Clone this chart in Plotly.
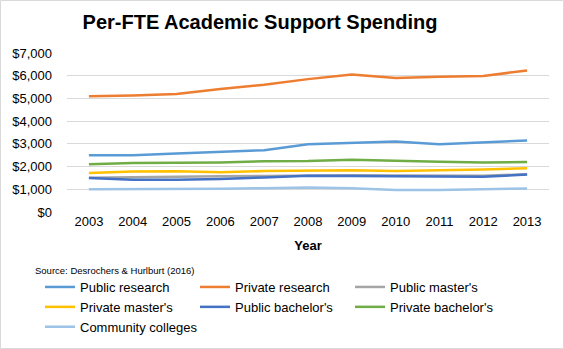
import plotly.graph_objects as go

years = ["2003", "2004", "2005", "2006", "2007", "2008", "2009", "2010", "2011", "2012", "2013"]

public_research = [2500, 2500, 2570, 2650, 2720, 2980, 3040, 3100, 2980, 3060, 3150]
private_research = [5100, 5130, 5200, 5420, 5600, 5850, 6050, 5900, 5950, 5990, 6230]
public_masters = [1510, 1540, 1550, 1570, 1590, 1620, 1620, 1610, 1620, 1600, 1660]
private_masters = [1720, 1780, 1790, 1750, 1800, 1820, 1840, 1810, 1830, 1870, 1930]
public_bachelors = [1500, 1420, 1420, 1450, 1520, 1600, 1580, 1580, 1580, 1550, 1650]
private_bachelors = [2100, 2160, 2170, 2180, 2230, 2240, 2300, 2240, 2210, 2180, 2200]
community_colleges = [1000, 1000, 1000, 1020, 1050, 1080, 1050, 970, 970, 990, 1040]

series = [
    ("Public research", public_research, "#5B9BD5"),
    ("Private research", private_research, "#ED7D31"),
    ("Public master's", public_masters, "#A5A5A5"),
    ("Private master's", private_masters, "#FFC000"),
    ("Public bachelor's", public_bachelors, "#4472C4"),
    ("Private bachelor's", private_bachelors, "#70AD47"),
    ("Community colleges", community_colleges, "#9DC3E6"),
]

W, H = 564, 349
L, R, T, B = 67, 15, 53, 137
pw = W - L - R
ph = H - T - B

def px_x(x):
    return (x - L) / pw

def px_y(y):
    return (H - B - y) / ph

fig = go.Figure()
for name, vals, col in series:
    fig.add_trace(go.Scatter(x=years, y=vals, name=name, mode="lines",
                             line=dict(color=col, width=2.5)))

font = "Liberation Sans, Arial, sans-serif"
fig.update_layout(
    width=W, height=H,
    margin=dict(l=L, r=R, t=T, b=B, autoexpand=False),
    paper_bgcolor="white", plot_bgcolor="white",
    font=dict(family=font, size=13, color="#404040"),
    title=dict(text="<b>Per-FTE Academic Support Spending</b>", x=260 / W, xanchor="center",
               y=1 - 22 / H, yanchor="middle", yref="container",
               font=dict(size=20, color="black", family=font)),
    xaxis=dict(type="category", range=[-0.5, 10.5], showgrid=False, zeroline=False,
               showline=False, ticks="", tickfont=dict(size=13, color="black"),
               title=dict(text="<b>Year</b>", font=dict(size=13, color="black"), standoff=12)),
    yaxis=dict(range=[0, 7000], dtick=1000, tickformat="$,.0f", showgrid=True,
               gridcolor="#D9D9D9", gridwidth=1, zeroline=False, showline=False,
               tickfont=dict(size=13, color="black"), ticks="", ticklabelstandoff=14),
    legend=dict(orientation="h", x=px_x(40), xanchor="left", y=px_y(272), yanchor="top",
                entrywidth=110, entrywidthmode="pixels", traceorder="normal",
                font=dict(size=13, color="black"), itemwidth=30,
                bgcolor="rgba(0,0,0,0)", tracegroupgap=0),
    showlegend=True,
)

fig.add_annotation(text="Source: Desrochers &amp; Hurlburt (2016)", xref="paper", yref="paper",
                   x=px_x(33), y=px_y(270), xanchor="left", yanchor="middle",
                   showarrow=False, font=dict(size=9.5, color="black", family=font))

fig.add_shape(type="rect", xref="paper", yref="paper",
              x0=px_x(0.5), x1=px_x(563.5), y0=px_y(348.5), y1=px_y(0.5),
              line=dict(color="#D9D9D9", width=1), fillcolor="rgba(0,0,0,0)", layer="below")

fig.write_html("out.html")
